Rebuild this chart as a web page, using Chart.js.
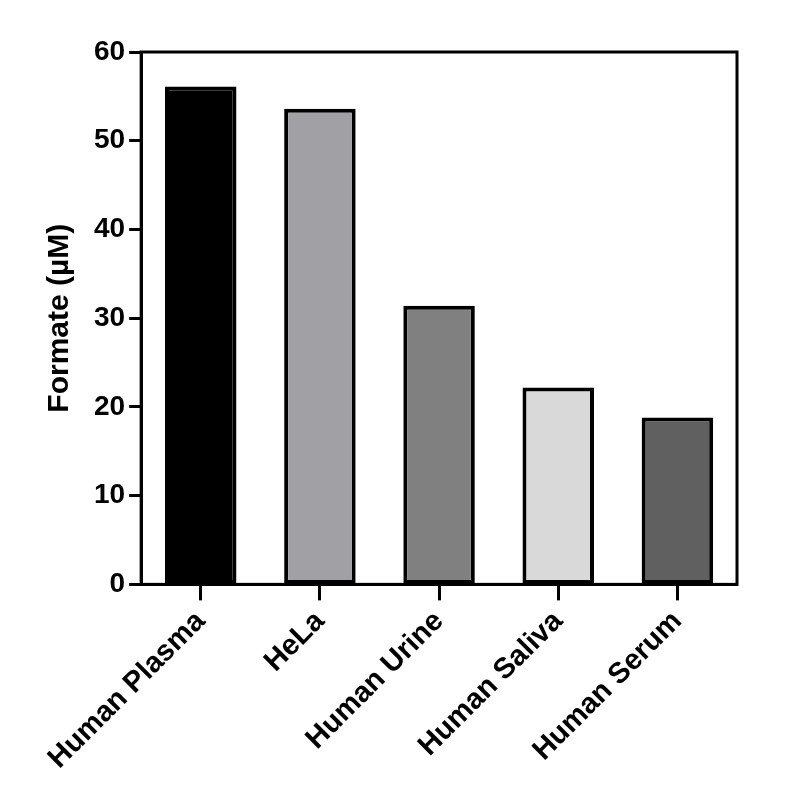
<!DOCTYPE html>
<html lang="en">
<head>
<meta charset="UTF-8">
<script src="https://cdn.jsdelivr.net/npm/chart.js"></script>
<style>
  html, body { margin: 0; padding: 0; background: #fff; }
  #wrap { width: 785px; height: 800px; }
</style>
</head>
<body>
<div id="wrap"><canvas id="c"></canvas></div>
<script>
const categories = ['Human Plasma', 'HeLa', 'Human Urine', 'Human Saliva', 'Human Serum'];
const formate = [56.1, 53.6, 31.4, 22.2, 18.8];
const barColors = ['#000000', '#a1a1a5', '#808080', '#d9d9d9', '#606060'];

// box around the plot area
const frame = {
  id: 'frame',
  afterDatasetsDraw(chart) {
    const { ctx, chartArea: a } = chart;
    ctx.save();
    ctx.strokeStyle = '#000';
    ctx.lineWidth = 3;
    ctx.strokeRect(a.left, a.top, a.right - a.left, a.bottom - a.top);
    ctx.restore();
  }
};

const font = { family: 'Liberation Sans, Arial', weight: 'bold' };

new Chart(document.getElementById('c'), {
  type: 'bar',
  data: {
    labels: categories,
    datasets: [{
      data: formate,
      backgroundColor: barColors,
      borderColor: '#000',
      borderWidth: 4,
      borderSkipped: false,
      categoryPercentage: 1,
      barPercentage: 0.6
    }]
  },
  options: {
    responsive: true,
    maintainAspectRatio: false,
    animation: false,
    layout: { padding: { top: 52, right: 48, left: 30, bottom: 20 } },
    plugins: { legend: { display: false }, tooltip: { enabled: false } },
    scales: {
      x: {
        grid: { offset: false, drawOnChartArea: false, tickLength: 16, tickWidth: 3, tickColor: '#000' },
        border: { color: '#000', width: 3 },
        ticks: { color: '#000', maxRotation: 45, minRotation: 45, font: { ...font, size: 29 }, padding: 4 }
      },
      y: {
        min: 0, max: 60,
        grid: { drawOnChartArea: false, tickLength: 12, tickWidth: 3, tickColor: '#000' },
        border: { color: '#000', width: 3 },
        ticks: { stepSize: 10, color: '#000', font: { ...font, size: 28 }, padding: 4 },
        title: { display: true, text: 'Formate (µM)', color: '#000', font: { ...font, size: 30 }, padding: 12 }
      }
    }
  },
  plugins: [frame]
});
</script>
</body>
</html>
